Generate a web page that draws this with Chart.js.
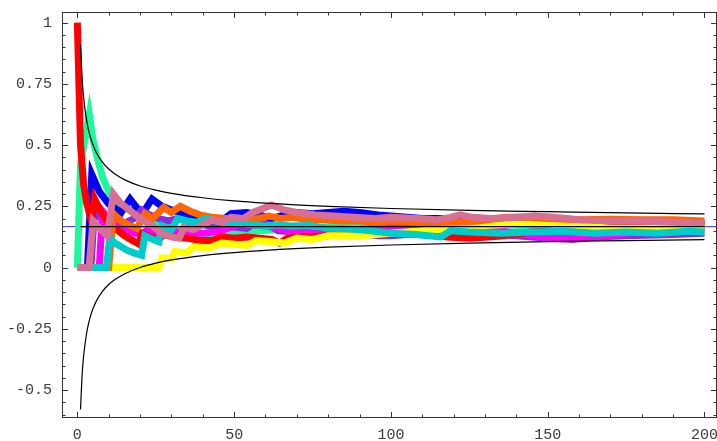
<!DOCTYPE html>
<html>
<head>
<meta charset="utf-8">
<script src="https://cdn.jsdelivr.net/npm/chart.js@4.4.0/dist/chart.umd.min.js"></script>
<style>
  html, body { margin: 0; padding: 0; background: #fff; }
</style>
</head>
<body>
<canvas id="chart" width="717" height="441"></canvas>
<script>
// Tick labels
const xTicks = [0, 50, 100, 150, 200];
const yTicks = [1, 0.75, 0.5, 0.25, 0, -0.25, -0.5];
const yTickLabels = ['1', '0.75', '0.5', '0.25', '0', '-0.25', '-0.5'];

// Reference level and the two black envelope curves
const refLevel = 0.1667;
const boundX = [1, 1.5, 2, 3, 4, 5, 6, 8, 10, 12, 15, 20, 25, 30, 40, 50, 60, 80, 100, 125, 150, 175, 200];
const upperY = [0.912, 0.775, 0.694, 0.597, 0.539, 0.500, 0.471, 0.430, 0.402, 0.382, 0.359, 0.333, 0.316, 0.303, 0.285, 0.272, 0.263, 0.250, 0.241, 0.233, 0.228, 0.223, 0.219];
const lowerY = [-0.579, -0.442, -0.360, -0.264, -0.206, -0.167, -0.138, -0.097, -0.069, -0.049, -0.026, 0.000, 0.018, 0.031, 0.049, 0.061, 0.070, 0.083, 0.092, 0.100, 0.106, 0.110, 0.114];

// Series, [x, y]
const red = [[0,1],[1,0.5],[2,0.34],[3,0.26],[4.5,0.19],[5.5,0.28],[7,0.24],[9,0.2],[11,0.17],[13,0.15],[15,0.13],[17,0.115],[19.8,0.095],[20.5,0.14],[23,0.125],[26,0.115],[27.5,0.135],[31,0.125],[35,0.12],[39,0.11],[43,0.11],[46,0.125],[50,0.12],[54,0.125],[58,0.12],[62,0.115],[64.5,0.1],[67,0.12],[72,0.125],[80,0.13],[90,0.14],[100,0.14],[110,0.135],[118,0.125],[125,0.12],[131,0.125],[136,0.13],[145,0.145],[155,0.155],[165,0.165],[180,0.17],[200,0.17]];
const green = [[0,0],[1,0.42],[3.8,0.625],[5,0.52],[6.5,0.44],[8,0.37],[10,0.31],[12,0.27],[14.5,0.245],[18,0.23],[21,0.21],[25,0.19],[30,0.165],[35,0.145],[40,0.125],[44,0.11],[47,0.13],[52,0.14],[58,0.15],[65,0.155],[72,0.16],[80,0.165],[88,0.17],[100,0.17],[110,0.175],[120,0.175],[127,0.18],[135,0.175],[145,0.17],[155,0.17],[165,0.165],[180,0.165],[200,0.16]];
const blue = [[0,0],[3.2,0],[4.6,0.38],[7,0.31],[10,0.26],[14,0.225],[16.8,0.28],[19.5,0.235],[21,0.225],[23.8,0.28],[27,0.25],[30,0.235],[34,0.22],[38,0.205],[42,0.195],[46,0.19],[49,0.22],[54,0.225],[58,0.215],[62,0.2],[66,0.215],[70,0.225],[75,0.22],[80,0.225],[85,0.23],[90,0.225],[96,0.215],[100,0.21],[110,0.2],[120,0.2],[135,0.195],[150,0.19],[170,0.185],[200,0.18]];
const purple = [[0,0],[4.3,0],[5.5,0.24],[7,0.21],[9,0.18],[11,0.16],[13,0.2],[15,0.18],[18,0.2],[20.5,0.235],[23,0.215],[26,0.2],[29,0.19],[32,0.2],[35,0.19],[38,0.18],[42,0.17],[46,0.16],[50,0.165],[54,0.16],[57,0.185],[61,0.175],[64,0.15],[70,0.145],[76,0.14],[84,0.135],[90,0.14],[96,0.13],[100,0.13],[110,0.14],[120,0.145],[130,0.14],[140,0.13],[150,0.12],[158,0.115],[165,0.125],[175,0.13],[190,0.135],[200,0.14]];
const magenta = [[0,0],[7,0],[8,0.23],[10,0.2],[12,0.175],[14,0.16],[17,0.145],[20,0.135],[22,0.15],[25,0.14],[28,0.155],[32,0.145],[36,0.14],[40,0.14],[44,0.145],[48,0.16],[52,0.18],[56,0.175],[60,0.17],[64,0.16],[68,0.15],[72,0.14],[78,0.135],[84,0.145],[90,0.155],[96,0.16],[102,0.17],[110,0.175],[118,0.175],[124,0.175],[130,0.16],[140,0.14],[149,0.125],[158,0.12],[165,0.125],[172,0.135],[180,0.15],[190,0.16],[200,0.16]];
const yellow = [[0,0],[26,0],[27,0.04],[30,0.035],[31,0.065],[35,0.06],[37,0.085],[42,0.08],[46,0.1],[50,0.095],[54,0.09],[57,0.11],[62,0.105],[66,0.1],[70,0.12],[75,0.115],[80,0.13],[90,0.13],[100,0.14],[110,0.15],[120,0.16],[127,0.17],[135,0.175],[145,0.18],[155,0.175],[162,0.17],[170,0.16],[180,0.16],[190,0.165],[200,0.165]];
const orange = [[0,0],[10,0],[11.5,0.22],[14,0.19],[17,0.17],[19,0.16],[21.5,0.22],[24,0.2],[27.5,0.245],[30,0.225],[32.8,0.25],[36,0.23],[39,0.215],[43,0.205],[47,0.2],[52,0.2],[56,0.195],[61,0.21],[65,0.2],[69,0.205],[73,0.195],[78,0.195],[84,0.19],[90,0.19],[96,0.185],[100,0.19],[110,0.185],[121,0.185],[128,0.19],[137,0.205],[144,0.205],[150,0.2],[160,0.195],[170,0.197],[180,0.195],[190,0.195],[200,0.19]];
const cyan = [[0,0],[9.3,0],[10.3,0.12],[12,0.1],[14,0.085],[16,0.07],[18,0.06],[20.5,0.05],[21.5,0.13],[24,0.115],[26,0.105],[27,0.17],[30,0.155],[32,0.2],[35,0.19],[38,0.185],[41,0.2],[44,0.19],[48,0.18],[52,0.18],[56,0.175],[60,0.17],[64,0.175],[68,0.17],[74,0.172],[80,0.16],[86,0.158],[92,0.152],[100,0.14],[108,0.135],[116,0.125],[119,0.15],[125,0.145],[135,0.14],[145,0.145],[155,0.148],[165,0.14],[175,0.145],[185,0.14],[195,0.148],[200,0.145]];
const pink = [[0,0],[3.7,0],[5,0.19],[7,0.16],[9.5,0.13],[11.5,0.3],[14,0.26],[17,0.23],[20,0.2],[24,0.17],[27,0.14],[30,0.125],[32.5,0.12],[34,0.165],[37,0.155],[40,0.175],[43,0.195],[46,0.185],[49,0.205],[53,0.2],[56,0.225],[60,0.245],[62,0.255],[66,0.235],[70,0.225],[76,0.215],[82,0.21],[88,0.205],[95,0.2],[100,0.205],[108,0.2],[115,0.195],[119,0.205],[122,0.215],[126,0.205],[132,0.2],[140,0.205],[146,0.21],[152,0.205],[160,0.195],[170,0.19],[180,0.19],[190,0.185],[200,0.18]];

const X_MIN = -4.9, X_MAX = 204;
const Y_MIN = -0.614, Y_MAX = 1.043;

function pts(arr) {
    return arr.map(p => ({ x: p[0], y: p[1] }));
}

function thick(data, color) {
    return {
        data: pts(data),
        borderColor: color,
        borderWidth: 7,
        borderJoinStyle: 'miter',
        borderCapStyle: 'butt',
        pointRadius: 0,
        tension: 0
    };
}

function thin(xs, ys, color) {
    return {
        data: xs.map((x, i) => ({ x: x, y: ys[i] })),
        borderColor: color,
        borderWidth: 1.2,
        pointRadius: 0,
        cubicInterpolationMode: 'monotone'
    };
}

// Frame with inward ticks, drawn from the scales
const framePlugin = {
    id: 'frame',
    afterDraw(chart) {
        const { ctx, chartArea: a, scales } = chart;
        const xs = scales.x, ys = scales.y;
        ctx.save();
        ctx.strokeStyle = '#333';
        ctx.lineWidth = 1;
        ctx.strokeRect(a.left + 0.5, a.top + 0.5, a.right - a.left - 1, a.bottom - a.top - 1);

        ctx.beginPath();
        for (let v = 0; v <= 200; v += 10) {
            const px = Math.round(xs.getPixelForValue(v)) + 0.5;
            const len = v % 50 === 0 ? 6 : 3.5;
            ctx.moveTo(px, a.bottom); ctx.lineTo(px, a.bottom - len);
            ctx.moveTo(px, a.top); ctx.lineTo(px, a.top + len);
        }
        for (let i = -12; i <= 20; i++) {
            const v = i * 0.05;
            const py = Math.round(ys.getPixelForValue(v)) + 0.5;
            const len = i % 5 === 0 ? 6 : 3.5;
            ctx.moveTo(a.left, py); ctx.lineTo(a.left + len, py);
            ctx.moveTo(a.right, py); ctx.lineTo(a.right - len, py);
        }
        ctx.stroke();

        ctx.fillStyle = '#3a3a3a';
        ctx.font = '15px "Liberation Mono", "DejaVu Sans Mono", monospace';
        ctx.textBaseline = 'middle';
        ctx.textAlign = 'right';
        yTicks.forEach((v, i) => {
            ctx.fillText(yTickLabels[i], a.left - 10, ys.getPixelForValue(v));
        });
        ctx.textAlign = 'center';
        xTicks.forEach(v => {
            ctx.fillText(String(v), xs.getPixelForValue(v), a.bottom + 17);
        });
        ctx.restore();
    }
};

const datasets = [
    thin([1, 200], [refLevel, refLevel], '#000'),
    thin(boundX, upperY, '#000'),
    thin(boundX, lowerY, '#000'),
    thick(pink, '#d87093'),
    thick(cyan, '#00cccc'),
    thick(orange, '#ff6600'),
    thick(yellow, '#ffff00'),
    thick(red, '#ff0000'),
    thick(magenta, '#ff00ff'),
    thick(purple, '#8a2be2'),
    thick(blue, '#0000ff'),
    thick(green, '#1cf89c'),
    thin([X_MIN, X_MAX], [refLevel, refLevel], '#5555aa')
];

new Chart(document.getElementById('chart'), {
    type: 'line',
    data: { datasets: datasets },
    options: {
        responsive: false,
        animation: false,
        devicePixelRatio: 1,
        layout: { padding: { left: 62, right: 0, top: 12, bottom: 23 } },
        plugins: { legend: { display: false }, tooltip: { enabled: false } },
        scales: {
            x: { type: 'linear', min: X_MIN, max: X_MAX, display: false },
            y: { type: 'linear', min: Y_MIN, max: Y_MAX, display: false }
        }
    },
    plugins: [framePlugin]
});
</script>
</body>
</html>
